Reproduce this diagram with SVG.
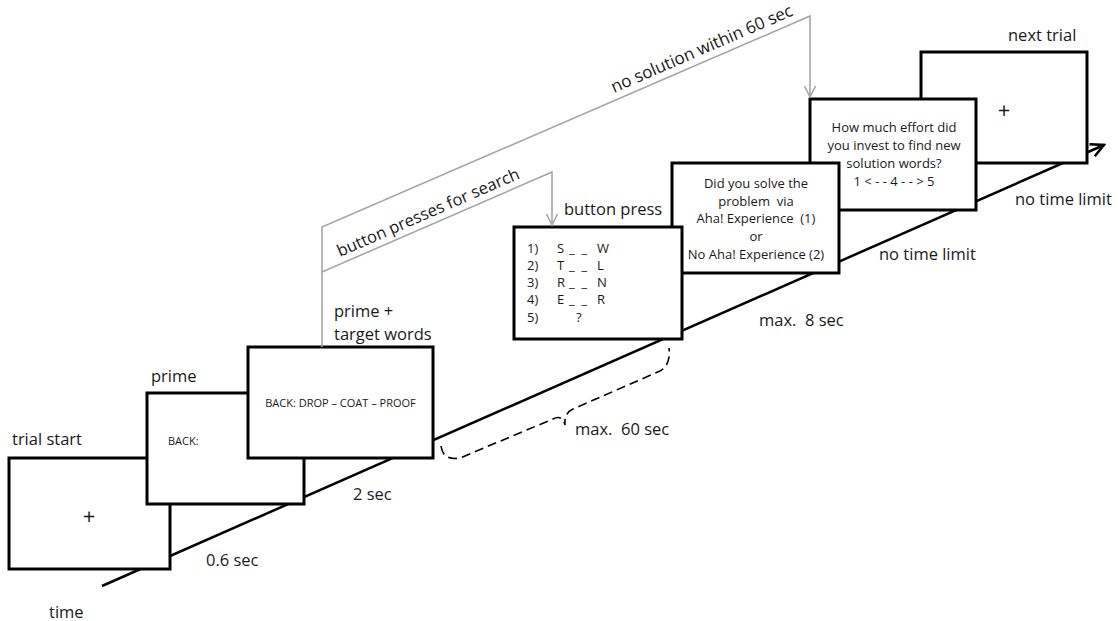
<svg xmlns="http://www.w3.org/2000/svg" width="1118" height="621" viewBox="0 0 1118 621" xml:space="preserve">
<style>
  text { white-space: pre; }
  .lbl { font-family: "Open Sans", "Noto Sans", sans-serif; font-size: 16.5px; fill: #1a1a1a; }
  .in { font-family: "Open Sans", "Noto Sans", sans-serif; font-size: 13px; fill: #1a1a1a; }
  .sm { font-family: "Open Sans", "Noto Sans", sans-serif; font-size: 11px; fill: #1a1a1a; }
  .plus { font-family: "Open Sans", "Noto Sans", sans-serif; font-size: 22px; fill: #1a1a1a; text-anchor: middle; }
  .box { fill: #ffffff; stroke: #000000; stroke-width: 3; }
  .gray { fill: none; stroke: #a6a6a6; stroke-width: 1.6; }
  .mid { text-anchor: middle; }
</style>
<defs>
  <marker id="garrow" markerWidth="14" markerHeight="14" refX="12" refY="7" orient="auto" markerUnits="userSpaceOnUse">
    <path d="M1,1.5 L12,7 L1,12.5" fill="none" stroke="#a6a6a6" stroke-width="1.6"/>
  </marker>
  <marker id="barrow" markerWidth="16" markerHeight="16" refX="14" refY="8" orient="auto" markerUnits="userSpaceOnUse">
    <path d="M1,1.5 L14,8 L1,14.5" fill="none" stroke="#000000" stroke-width="2.5"/>
  </marker>
</defs>

<g id="timeline">
  <line x1="102" y1="586" x2="1104" y2="145" stroke="#000" stroke-width="2.5" marker-end="url(#barrow)"/>
</g>

<g id="trial-start">
  <rect class="box" x="9" y="458" width="161" height="111"/>
  <text class="plus" x="89" y="524">+</text>
  <text class="lbl" x="12" y="445">trial start</text>
</g>

<g id="prime">
  <rect class="box" x="147" y="393" width="157" height="111"/>
  <text class="sm" x="168" y="445">BACK:</text>
  <text class="lbl" x="151" y="382">prime</text>
</g>

<g id="target">
  <rect class="box" x="248" y="347" width="185" height="111"/>
  <text class="sm mid" x="340.5" y="407">BACK: DROP – COAT – PROOF</text>
  <text class="lbl" x="334" y="317">prime +</text>
  <text class="lbl" x="334" y="340">target words</text>
</g>

<g id="next-trial">
  <rect class="box" x="921" y="52" width="166" height="111"/>
  <text class="plus" x="1004" y="118">+</text>
  <text class="lbl" x="1008" y="41">next trial</text>
</g>

<g id="effort">
  <rect class="box" x="810" y="99" width="166" height="111"/>
  <text class="in mid" x="894" y="132">How much effort did</text>
  <text class="in mid" x="894" y="150">you invest to find new</text>
  <text class="in mid" x="894" y="168">solution words?</text>
  <text class="in mid" x="894" y="186">1 &lt; - - 4 - - &gt; 5</text>
</g>

<g id="aha">
  <rect class="box" x="672" y="163" width="167" height="110"/>
  <text class="in mid" x="756" y="188">Did you solve the</text>
  <text class="in mid" x="756" y="206">problem  via</text>
  <text class="in mid" x="756" y="223">Aha! Experience  (1)</text>
  <text class="in mid" x="756" y="241">or</text>
  <text class="in mid" x="756" y="259">No Aha! Experience (2)</text>
</g>

<g id="button-press">
  <rect class="box" x="514" y="227" width="168" height="112"/>
  <text class="in" x="527" y="253">1)</text>
  <text class="in" x="527" y="270">2)</text>
  <text class="in" x="527" y="287">3)</text>
  <text class="in" x="527" y="304">4)</text>
  <text class="in" x="527" y="322">5)</text>
  <text class="in" x="557" y="253">S</text>
  <text class="in" x="557" y="270">T</text>
  <text class="in" x="557" y="287">R</text>
  <text class="in" x="557" y="304">E</text>
  <text class="in" x="569" y="253">_  _</text>
  <text class="in" x="569" y="270">_  _</text>
  <text class="in" x="569" y="287">_  _</text>
  <text class="in" x="569" y="304">_  _</text>
  <text class="in" x="597" y="253">W</text>
  <text class="in" x="597" y="270">L</text>
  <text class="in" x="597" y="287">N</text>
  <text class="in" x="597" y="304">R</text>
  <text class="in" x="576" y="322">?</text>
  <text class="lbl" x="564" y="215">button press</text>
</g>

<g id="connectors">
  <polyline class="gray" points="322,347 322,227 810,16 810,97" marker-end="url(#garrow)"/>
  <polyline class="gray" points="322,272 552,172 552,225" marker-end="url(#garrow)"/>
  <path d="M441,446 Q443,461 460,458 L553,419 Q562,414 565,425 Q564,413 573,409 L660,371 Q671,365 669,348" fill="none" stroke="#000" stroke-width="1.6" stroke-dasharray="9,5"/>
</g>

<g id="labels">
  <text class="lbl" style="font-size:17px" transform="translate(614,93) rotate(-23.43)">no solution within 60 sec</text>
  <text class="lbl" transform="translate(340,257) rotate(-23.59)">button presses for search</text>
  <text class="lbl" x="206" y="566">0.6 sec</text>
  <text class="lbl" x="353" y="500">2 sec</text>
  <text class="lbl" x="575" y="435">max.  60 sec</text>
  <text class="lbl" x="759" y="326">max.  8 sec</text>
  <text class="lbl" x="879" y="260">no time limit</text>
  <text class="lbl" x="1015" y="205">no time limit</text>
  <text class="lbl" x="49" y="618">time</text>
</g>
</svg>
